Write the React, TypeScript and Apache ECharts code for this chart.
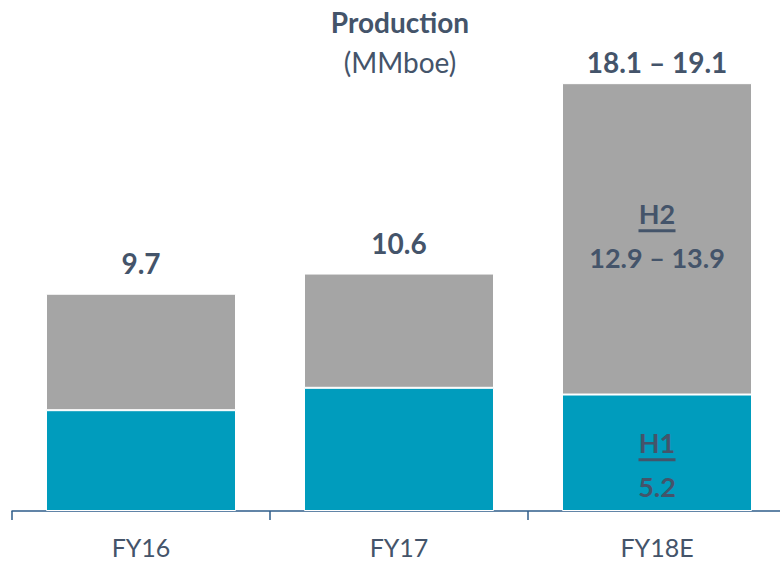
import React, { useEffect, useRef } from "react";
import * as echarts from "echarts";

const categories = ["FY16", "FY17", "FY18E"];
const h1Values = [4.5, 5.5, 5.2];
const h2Values = [5.2, 5.1, 13.9];
const totalLabels = ["9.7", "10.6", "18.1 – 19.1"];
const h2Labels = ["", "", "12.9 – 13.9"];
const h1Labels = ["", "", "5.2"];

const TEXT = "#44546A";
const FONT = "Lato";

export default function App() {
  const ref = useRef<HTMLDivElement>(null);
  useEffect(() => {
    if (!ref.current) return;
    const chart = echarts.init(ref.current, null, { renderer: "svg" });
    const underlineRich = {
      h: { fontFamily: FONT, fontSize: 27, fontWeight: "bold", color: TEXT, lineHeight: 30 },
      u: { width: 37, height: 3, backgroundColor: TEXT, lineHeight: 4 },
      sp: { lineHeight: 10 },
      v: { fontFamily: FONT, fontSize: 27, fontWeight: "bold", color: TEXT, lineHeight: 30 },
    };
    chart.setOption({
      animation: false,
      textStyle: { fontFamily: FONT },
      grid: { left: 12, right: 14, top: 63, bottom: 52, containLabel: false },
      graphic: [
        {
          type: "text",
          x: 400,
          y: 22,
          style: {
            text: "Production",
            font: `bold 28px ${FONT}`,
            fill: TEXT,
            textAlign: "center",
            textVerticalAlign: "middle",
          },
        },
        {
          type: "text",
          x: 400,
          y: 62,
          style: {
            text: "(MMboe)",
            font: `28px ${FONT}`,
            fill: TEXT,
            textAlign: "center",
            textVerticalAlign: "middle",
          },
        },
      ],
      xAxis: {
        type: "category",
        data: categories,
        axisLine: { lineStyle: { color: "#2E5C8A", width: 1.5 } },
        axisTick: { show: true, length: 9, lineStyle: { color: "#2E5C8A", width: 1.5 } },
        axisLabel: { color: TEXT, fontSize: 25, fontFamily: FONT, margin: 22, lineHeight: 28 },
      },
      yAxis: {
        type: "value",
        min: 0,
        max: 20,
        show: false,
        splitLine: { show: false },
      },
      series: [
        {
          type: "bar",
          stack: "total",
          barWidth: 190,
          itemStyle: { color: "#009CBD", borderColor: "#ffffff", borderWidth: 1 },
          data: h1Values.map((v, i) => ({
            value: v,
            label: {
              show: h1Labels[i] !== "",
              position: "inside",
              offset: [0, 12],
              formatter: `{h|H1}\n{u|}\n{sp|}\n{v|${h1Labels[i]}}`,
              rich: underlineRich,
            },
          })),
        },
        {
          type: "bar",
          stack: "total",
          barWidth: 190,
          itemStyle: { color: "#A5A5A5", borderColor: "#ffffff", borderWidth: 1 },
          data: h2Values.map((v, i) => ({
            value: v,
            label: {
              show: h2Labels[i] !== "",
              position: "inside",
              offset: [0, -3],
              formatter: `{h|H2}\n{u|}\n{sp|}\n{v|${h2Labels[i]}}`,
              rich: underlineRich,
            },
          })),
        },
        {
          type: "bar",
          stack: "total",
          barWidth: 190,
          itemStyle: { color: "transparent" },
          data: totalLabels.map((t, i) => ({
            value: 0,
            label: {
              show: true,
              position: "top",
              distance: i === 2 ? 7 : 17,
              formatter: t,
              fontFamily: FONT,
              fontSize: 28,
              fontWeight: "bold",
              color: TEXT,
            },
          })),
        },
      ],
    });
    return () => chart.dispose();
  }, []);
  return (
    <div
      style={{
        position: "absolute",
        left: 0,
        top: 0,
        width: 780,
        height: 563,
        overflow: "hidden",
      }}
    >
      <div ref={ref} style={{ width: 800, height: 563 }} />
    </div>
  );
}
